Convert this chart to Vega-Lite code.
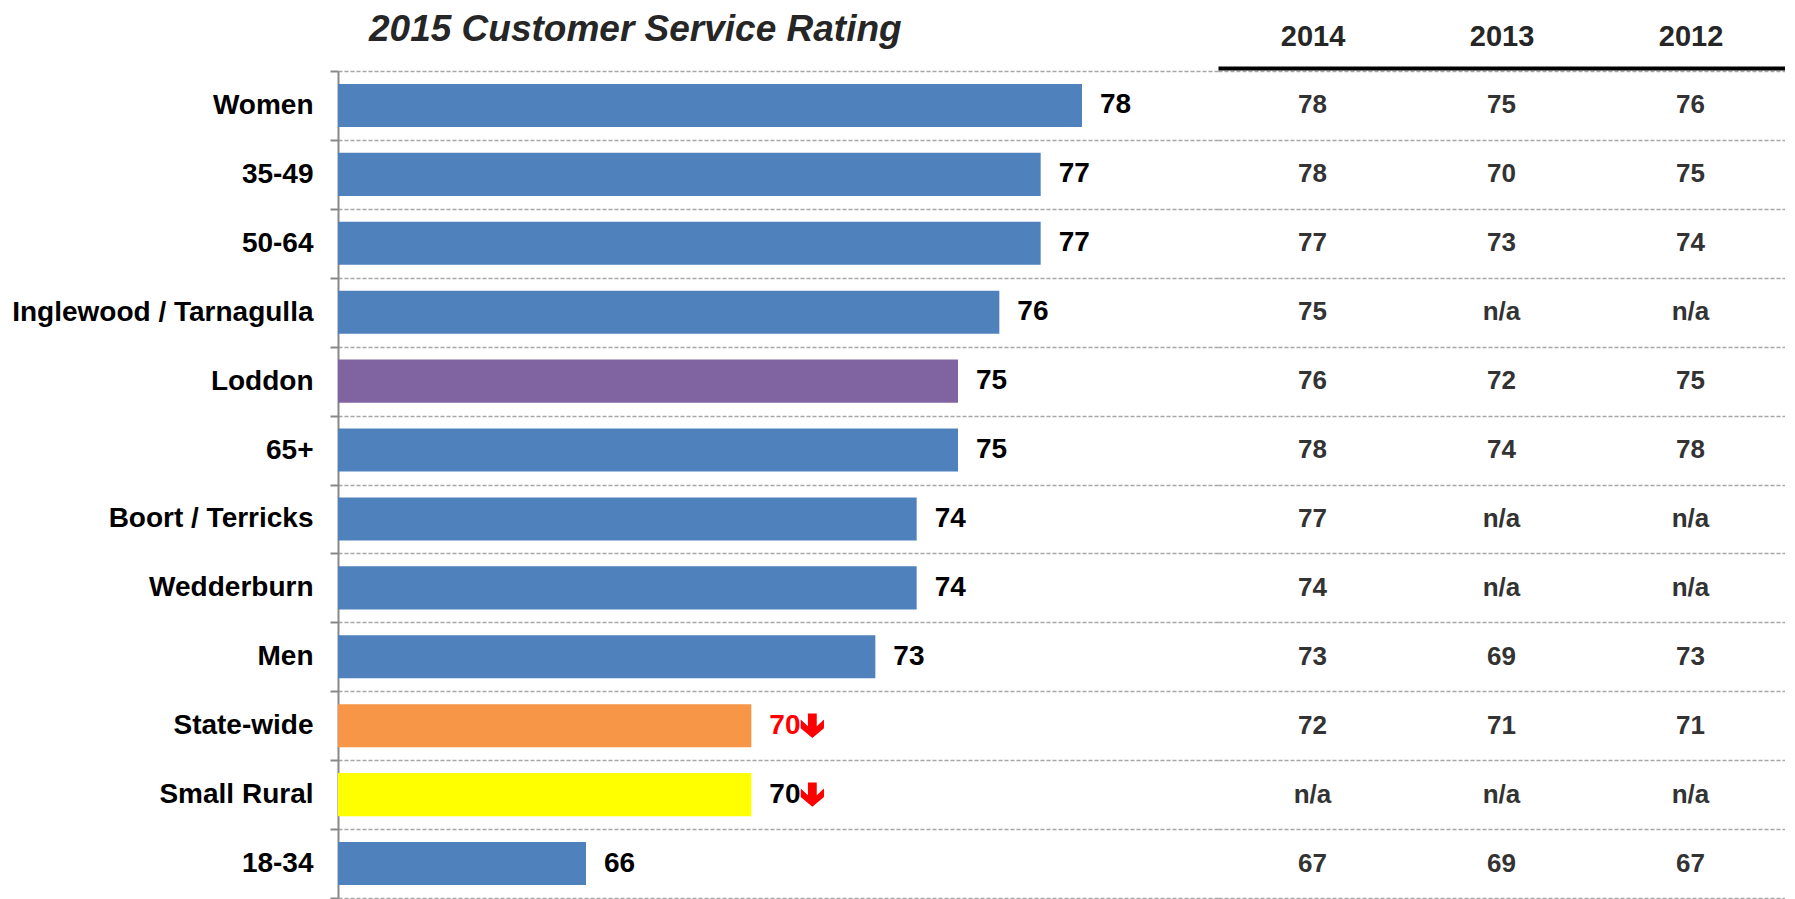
{
  "$schema": "https://vega.github.io/schema/vega-lite/v6.json",
  "padding": {"left": 11, "top": 11, "right": 0, "bottom": 0},
  "spacing": 0,
  "config": {"view": {"stroke": null}, "font": "Liberation Sans"},
  "datasets": {
    "bars": [
      {"segment": "Women", "value": 78, "group": "Segment", "trend": ""},
      {"segment": "35-49", "value": 77, "group": "Segment", "trend": ""},
      {"segment": "50-64", "value": 77, "group": "Segment", "trend": ""},
      {"segment": "Inglewood / Tarnagulla", "value": 76, "group": "Segment", "trend": ""},
      {"segment": "Loddon", "value": 75, "group": "Loddon", "trend": ""},
      {"segment": "65+", "value": 75, "group": "Segment", "trend": ""},
      {"segment": "Boort / Terricks", "value": 74, "group": "Segment", "trend": ""},
      {"segment": "Wedderburn", "value": 74, "group": "Segment", "trend": ""},
      {"segment": "Men", "value": 73, "group": "Segment", "trend": ""},
      {"segment": "State-wide", "value": 70, "group": "State-wide", "trend": "down"},
      {"segment": "Small Rural", "value": 70, "group": "Small Rural", "trend": "down"},
      {"segment": "18-34", "value": 66, "group": "Segment", "trend": ""}
    ],
    "history": [
      {"segment": "Women", "year": "2014", "score": "78"},
      {"segment": "Women", "year": "2013", "score": "75"},
      {"segment": "Women", "year": "2012", "score": "76"},
      {"segment": "35-49", "year": "2014", "score": "78"},
      {"segment": "35-49", "year": "2013", "score": "70"},
      {"segment": "35-49", "year": "2012", "score": "75"},
      {"segment": "50-64", "year": "2014", "score": "77"},
      {"segment": "50-64", "year": "2013", "score": "73"},
      {"segment": "50-64", "year": "2012", "score": "74"},
      {"segment": "Inglewood / Tarnagulla", "year": "2014", "score": "75"},
      {"segment": "Inglewood / Tarnagulla", "year": "2013", "score": "n/a"},
      {"segment": "Inglewood / Tarnagulla", "year": "2012", "score": "n/a"},
      {"segment": "Loddon", "year": "2014", "score": "76"},
      {"segment": "Loddon", "year": "2013", "score": "72"},
      {"segment": "Loddon", "year": "2012", "score": "75"},
      {"segment": "65+", "year": "2014", "score": "78"},
      {"segment": "65+", "year": "2013", "score": "74"},
      {"segment": "65+", "year": "2012", "score": "78"},
      {"segment": "Boort / Terricks", "year": "2014", "score": "77"},
      {"segment": "Boort / Terricks", "year": "2013", "score": "n/a"},
      {"segment": "Boort / Terricks", "year": "2012", "score": "n/a"},
      {"segment": "Wedderburn", "year": "2014", "score": "74"},
      {"segment": "Wedderburn", "year": "2013", "score": "n/a"},
      {"segment": "Wedderburn", "year": "2012", "score": "n/a"},
      {"segment": "Men", "year": "2014", "score": "73"},
      {"segment": "Men", "year": "2013", "score": "69"},
      {"segment": "Men", "year": "2012", "score": "73"},
      {"segment": "State-wide", "year": "2014", "score": "72"},
      {"segment": "State-wide", "year": "2013", "score": "71"},
      {"segment": "State-wide", "year": "2012", "score": "71"},
      {"segment": "Small Rural", "year": "2014", "score": "n/a"},
      {"segment": "Small Rural", "year": "2013", "score": "n/a"},
      {"segment": "Small Rural", "year": "2012", "score": "n/a"},
      {"segment": "18-34", "year": "2014", "score": "67"},
      {"segment": "18-34", "year": "2013", "score": "69"},
      {"segment": "18-34", "year": "2012", "score": "67"}
    ]
  },
  "hconcat": [
    {
      "width": 880,
      "height": 827,
      "data": {"name": "bars"},
      "title": {
        "text": "2015 Customer Service Rating",
        "anchor": "start",
        "frame": "group",
        "fontSize": 37,
        "fontWeight": "bold",
        "fontStyle": "italic",
        "color": "#262626",
        "font": "Liberation Sans",
        "dx": 31,
        "offset": -21,
        "baseline": "alphabetic"
      },
      "encoding": {
        "y": {
          "field": "segment",
          "type": "nominal",
          "sort": null,
          "scale": {"paddingInner": 0, "paddingOuter": 0},
          "axis": {
            "title": null,
            "labelFontSize": 28,
            "labelFontWeight": "bold",
            "labelColor": "#000000",
            "labelPadding": 17,
            "labelLimit": 400,
            "tickSize": 8,
            "tickColor": "#888888",
            "tickWidth": 2,
            "domainColor": "#888888",
            "domainWidth": 2,
            "tickBand": "extent",
            "grid": true,
            "gridDash": [4, 2],
            "gridColor": "#A6A6A6",
            "gridWidth": 1.5
          }
        }
      },
      "layer": [
        {
          "mark": {"type": "bar", "height": {"band": 0.625}},
          "encoding": {
            "x": {"field": "value", "type": "quantitative", "scale": {"domain": [60, 81.29], "nice": false, "zero": false}, "axis": null},
            "x2": {"datum": 60},
            "color": {
              "field": "group",
              "type": "nominal",
              "scale": {"domain": ["Segment", "Loddon", "State-wide", "Small Rural"], "range": ["#4F81BD", "#8064A2", "#F79646", "#FFFF00"]},
              "legend": null
            }
          }
        },
        {
          "mark": {"type": "text", "align": "left", "dx": 18, "fontSize": 28, "fontWeight": "bold"},
          "encoding": {
            "x": {"field": "value", "type": "quantitative"},
            "text": {"field": "value"},
            "color": {"condition": {"test": "datum.group === 'State-wide'", "value": "#FF0000"}, "value": "#000000"}
          }
        },
        {
          "transform": [{"filter": "datum.trend === 'down'"}],
          "mark": {
            "type": "point",
            "shape": "M-0.36,-1L0.36,-1L0.36,0.05L0.95,-0.5L0.95,0.2L0,1L-0.95,0.2L-0.95,-0.5L-0.36,0.05Z",
            "filled": true,
            "color": "#FF0000",
            "opacity": 1,
            "size": 600,
            "xOffset": 61
          },
          "encoding": {
            "x": {"field": "value", "type": "quantitative"}
          }
        }
      ]
    },
    {
      "width": 567,
      "height": 827,
      "data": {"name": "history"},
      "mark": {"type": "text", "fontSize": 26, "fontWeight": "bold", "color": "#333333"},
      "encoding": {
        "x": {
          "field": "year",
          "type": "ordinal",
          "sort": ["2014", "2013", "2012"],
          "scale": {"paddingInner": 0, "paddingOuter": 0},
          "axis": {
            "orient": "top",
            "title": null,
            "labelAngle": 0,
            "labelFontSize": 29,
            "labelFontWeight": "bold",
            "labelColor": "#262626",
            "ticks": false,
            "domainColor": "#000000",
            "domainWidth": 4,
            "labelPadding": 17,
            "offset": 3,
            "grid": false
          }
        },
        "y": {
          "field": "segment",
          "type": "nominal",
          "sort": null,
          "scale": {"paddingInner": 0, "paddingOuter": 0},
          "axis": {
            "title": null,
            "labels": false,
            "ticks": false,
            "domain": false,
            "grid": true,
            "tickBand": "extent",
            "gridDash": [4, 2],
            "gridColor": "#A6A6A6",
            "gridWidth": 1.5,
            "minExtent": 0,
            "maxExtent": 0
          }
        },
        "text": {"field": "score"}
      }
    }
  ]
}
